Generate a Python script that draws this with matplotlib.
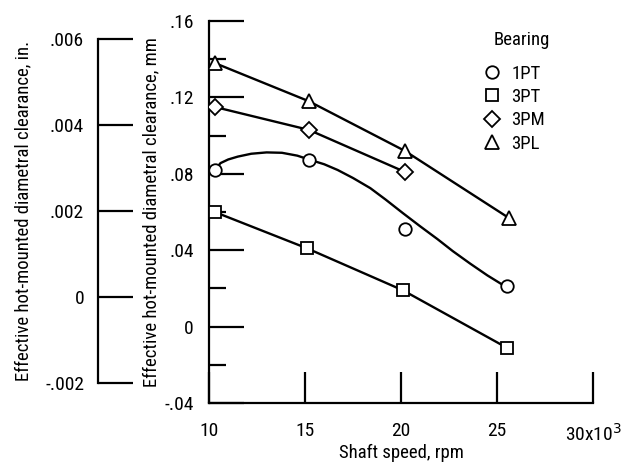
import matplotlib
matplotlib.use("Agg")
import matplotlib.pyplot as plt
from matplotlib.ticker import FixedLocator, FuncFormatter

plt.rcParams['font.family'] = ['Roboto Condensed', 'DejaVu Sans']

# measured points (shaft speed in 10^3 rpm, clearance in mm)
speed_1pt = [10.3, 15.2, 20.2, 25.5]
clr_1pt = [0.082, 0.087, 0.051, 0.021]
speed_3pt = [10.3, 15.1, 20.1, 25.5]
clr_3pt = [0.060, 0.041, 0.019, -0.011]
speed_3pm = [10.3, 15.2, 20.2]
clr_3pm = [0.115, 0.103, 0.081]
speed_3pl = [10.3, 15.2, 20.2, 25.6]
clr_3pl = [0.138, 0.118, 0.092, 0.057]

# faired curve for 1PT
fair_x_1pt = [10.3, 10.6, 11.0, 11.5, 12.2, 13.0, 13.8, 14.6, 15.2, 16.0, 16.7,
              17.5, 18.4, 19.2, 20.1, 21.0, 21.9, 22.7, 23.6, 24.5, 25.5]
fair_y_1pt = [0.082, 0.0856, 0.0875, 0.0890, 0.0905, 0.0912, 0.0910, 0.0895, 0.0875,
              0.0850, 0.0820, 0.0778, 0.0725, 0.0665, 0.0594, 0.0525, 0.0458,
              0.0395, 0.0330, 0.0268, 0.0206]

mm_ticks = [-0.04, 0.0, 0.04, 0.08, 0.12, 0.16]
mm_minor = [-0.02, 0.02, 0.06, 0.10, 0.14]
in_ticks = [-0.002, 0.0, 0.002, 0.004, 0.006]
x_ticks = [10, 15, 20, 25, 30]
x_labels = ['10', '15', '20', '25', '30x10$^3$']


def dotfmt(v, pos):
    if abs(v) < 1e-12:
        return '0'
    s = ('%.3f' % v) if abs(v) < 0.01 else ('%.2f' % v)
    return s.replace('0.', '.', 1)


fig = plt.figure(figsize=(6.25, 4.66), dpi=100)
ax = fig.add_axes([209 / 625, 1 - 403 / 466, (593 - 209) / 625, (403 - 21) / 466])

ax.plot(fair_x_1pt, fair_y_1pt, color='black', lw=1.7, zorder=2)
ax.plot(speed_3pt, clr_3pt, color='black', lw=1.7, zorder=2)
ax.plot(speed_3pm, clr_3pm, color='black', lw=1.7, zorder=2)
ax.plot(speed_3pl, clr_3pl, color='black', lw=1.7, zorder=2)

mk = dict(ls='none', mfc='white', mec='black', mew=1.3, ms=9, zorder=3)
ax.plot(speed_1pt, clr_1pt, marker='o', label='1PT', **mk)
ax.plot(speed_3pt, clr_3pt, marker='s', label='3PT', **mk)
ax.plot(speed_3pm, clr_3pm, marker='D', label='3PM', **dict(mk, ms=8))
ax.plot(speed_3pl, clr_3pl, marker='^', label='3PL', **dict(mk, ms=10))

ax.set_xlim(10, 30)
ax.set_ylim(-0.04, 0.16)
for s in ['top', 'right']:
    ax.spines[s].set_visible(False)
for s in ['left', 'bottom']:
    ax.spines[s].set_linewidth(1.6)

ax.xaxis.set_major_locator(FixedLocator(x_ticks))
ax.set_xticklabels(x_labels)
ax.yaxis.set_major_locator(FixedLocator(mm_ticks))
ax.yaxis.set_minor_locator(FixedLocator(mm_minor))
ax.yaxis.set_major_formatter(FuncFormatter(dotfmt))
ax.tick_params(axis='x', direction='in', length=22, width=1.6, labelsize=14, pad=14)
ax.tick_params(axis='y', which='major', direction='in', length=25, width=1.6, labelsize=14, pad=11)
ax.tick_params(axis='y', which='minor', direction='in', length=12, width=1.6)
ax.set_xlabel('Shaft speed, rpm', fontsize=13.5, labelpad=0)
ax.set_ylabel('Effective hot-mounted diametral clearance, mm', fontsize=13.5, labelpad=3)

ax.text(0.74, 0.95, 'Bearing', transform=ax.transAxes, fontsize=13.5, va='center', ha='left')
ax.legend(frameon=False, loc='upper left', bbox_to_anchor=(0.69, 0.905),
          fontsize=13.5, handletextpad=0.5, labelspacing=0.28, borderaxespad=0,
          handlelength=1.1)

# inch scale on the far left
ax2 = fig.add_axes([98 / 625, 1 - 383 / 466, 0.01, (383 - 39) / 466])
ax2.set_ylim(-0.002, 0.006)
ax2.patch.set_visible(False)
for s in ['top', 'right', 'bottom']:
    ax2.spines[s].set_visible(False)
ax2.spines['left'].set_linewidth(1.6)
ax2.set_xticks([])
ax2.yaxis.set_major_locator(FixedLocator(in_ticks))
ax2.yaxis.set_major_formatter(FuncFormatter(dotfmt))
ax2.tick_params(axis='y', direction='in', length=25, width=1.6, labelsize=14, pad=10)
ax2.set_ylabel('Effective hot-mounted diametral clearance, in.', fontsize=13.5, labelpad=9)

fig.savefig('out.png', dpi=100)
